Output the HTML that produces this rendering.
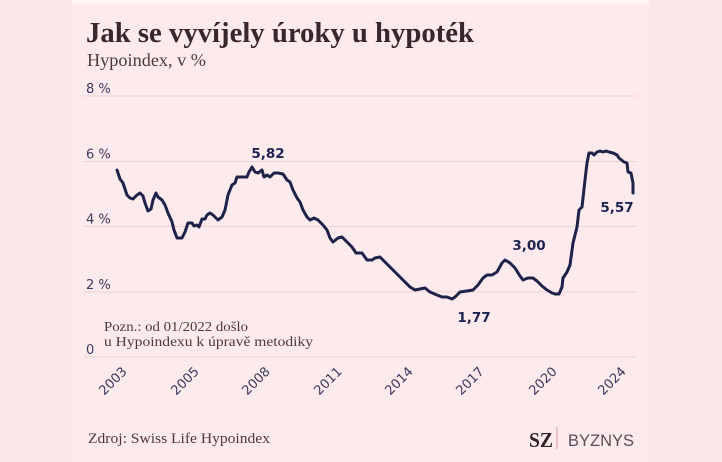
<!DOCTYPE html>
<html>
<head>
<meta charset="utf-8">
<style>
html,body{margin:0;padding:0;}
body{width:722px;height:462px;overflow:hidden;background:#fbe5e7;}
svg{display:block;}
</style>
</head>
<body>
<svg width="722" height="462" viewBox="0 0 722 462" xmlns="http://www.w3.org/2000/svg">
  <rect x="0" y="0" width="722" height="462" fill="#fbe5e7"/>
  <rect x="72" y="0" width="577" height="462" fill="#fdeaec"/>
  <rect x="72" y="0" width="577" height="4" fill="#fdf3f4"/>

  <!-- Title -->
  <text x="86" y="42" font-family="Liberation Serif, serif" font-weight="bold" font-size="29" fill="#38272c" textLength="388" lengthAdjust="spacingAndGlyphs">Jak se vyvíjely úroky u hypoték</text>
  <text x="87" y="66" font-family="Liberation Serif, serif" font-size="18" fill="#4a3a3f" textLength="119" lengthAdjust="spacingAndGlyphs">Hypoindex, v %</text>

  <!-- Gridlines -->
  <g stroke="#ecd3d4" stroke-width="1">
    <line x1="84" y1="96" x2="636" y2="96"/>
    <line x1="84" y1="161.5" x2="636" y2="161.5"/>
    <line x1="84" y1="226.5" x2="636" y2="226.5"/>
    <line x1="84" y1="292" x2="636" y2="292"/>
    <line x1="84" y1="357" x2="636" y2="357"/>
  </g>

  <!-- Y labels -->
  <g font-family="DejaVu Sans, sans-serif" font-size="13" fill="#3b3b5e">
    <text x="86" y="93">8 %</text>
    <text x="86" y="158.5">6 %</text>
    <text x="86" y="223.5">4 %</text>
    <text x="86" y="289">2 %</text>
    <text x="86" y="354">0</text>
  </g>

  <!-- Note -->
  <g font-family="Liberation Serif, serif" font-size="14" fill="#4a3a3f">
    <text x="104" y="331" textLength="144" lengthAdjust="spacingAndGlyphs">Pozn.: od 01/2022 došlo</text>
    <text x="104" y="346" textLength="209" lengthAdjust="spacingAndGlyphs">u Hypoindexu k úpravě metodiky</text>
  </g>

  <!-- X labels -->
  <g font-family="DejaVu Sans, sans-serif" font-size="13" fill="#3b3b5e" text-anchor="middle">
    <text transform="translate(116,384) rotate(-45)">2003</text>
    <text transform="translate(188,384) rotate(-45)">2005</text>
    <text transform="translate(259,384) rotate(-45)">2008</text>
    <text transform="translate(331,384) rotate(-45)">2011</text>
    <text transform="translate(402,384) rotate(-45)">2014</text>
    <text transform="translate(473,384) rotate(-45)">2017</text>
    <text transform="translate(546,384) rotate(-45)">2020</text>
    <text transform="translate(615,384) rotate(-45)">2024</text>
  </g>

  <!-- Series -->
  <polyline fill="none" stroke="#1e2148" stroke-width="3" stroke-linejoin="round" stroke-linecap="round"
    points="117,170 120,179 123,183 127,195 130,198 133,199 137,195 140,193 143,196 145,203 148,211 151,209 153,200 156,193 158,197 162,200 165,205 168,213 172,222 174,230 177,238 182,238 185,232 188,223 192,223 194,226 197,225 199,227 202,219 205,219 207,215 210,213 213,215 218,220 222,217 225,210 228,195 232,185 235,183 237,177 242,177 247,177 249,172 252,167 255,172 258,173 262,170 264,177 267,175 270,177 274,173 278,173 283,174 287,180 290,182 293,190 297,198 300,202 303,210 307,217 310,220 314,218 318,220 323,225 327,230 330,238 333,242 338,238 342,237 347,242 352,247 356,253 362,253 367,260 372,260 375,258 380,257 385,262 390,267 395,272 400,277 405,282 410,287 415,290 420,289 425,288 430,292 437,295 442,297 447,297 452,299 455,297 460,292 467,291 473,290 478,285 483,278 487,275 492,275 497,272 502,263 505,260 510,263 515,268 520,276 523,280 528,278 533,278 537,281 542,286 547,290 552,293 555,294 559,294 562,287 563,278 567,272 570,265 573,243 577,227 579,210 582,207 585,180 587,163 589,153 592,153 594,155 597,152 600,151 603,152 606,151 609,152 613,153 617,155 619,158 624,162 627,163 628,172 631,173 633,183 633,193"/>

  <!-- Data labels -->
  <g font-family="DejaVu Sans, sans-serif" font-weight="bold" font-size="13.5" fill="#1e2350" text-anchor="middle">
    <text x="268" y="158">5,82</text>
    <text x="474" y="322">1,77</text>
    <text x="529" y="250">3,00</text>
    <text x="617" y="212">5,57</text>
  </g>

  <!-- Footer -->
  <text x="88" y="443" font-family="Liberation Serif, serif" font-size="15" fill="#4a3a3f" textLength="182" lengthAdjust="spacingAndGlyphs">Zdroj: Swiss Life Hypoindex</text>
  <text x="529" y="447" font-family="Liberation Serif, serif" font-weight="bold" font-size="21" fill="#2b2326" textLength="24" lengthAdjust="spacingAndGlyphs">SZ</text>
  <line x1="557" y1="427" x2="557" y2="449" stroke="#e7b4bb" stroke-width="1.5"/>
  <text x="568" y="446" font-family="Liberation Sans, sans-serif" font-size="16.5" fill="#555055" textLength="66" lengthAdjust="spacingAndGlyphs">BYZNYS</text>
</svg>
</body>
</html>
